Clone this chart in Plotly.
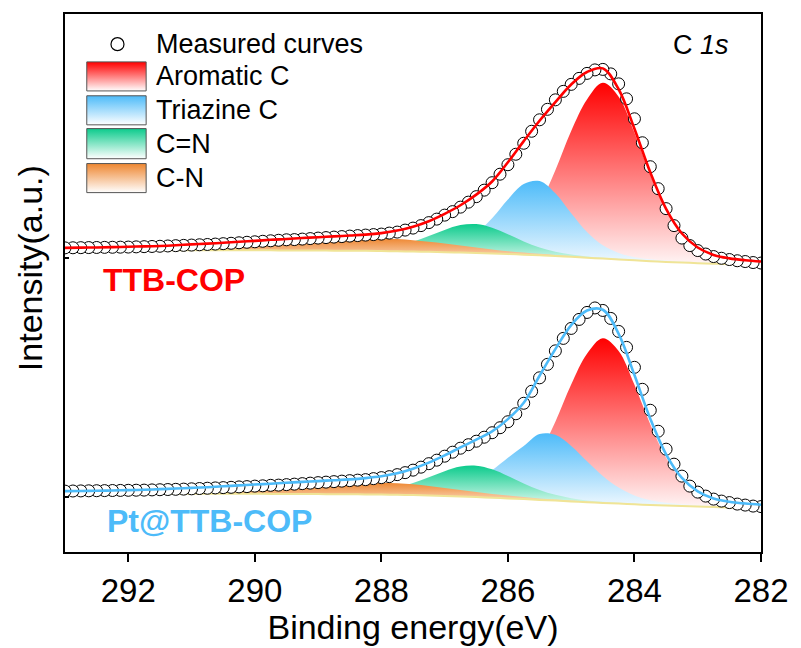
import numpy as np
import plotly.graph_objects as go

# ---------------- data (intensities in a.u.) ----------------
E_FIT = np.round(np.arange(282.0, 293.001, 0.25), 3)     # 45 points, fit grid (eV)
E_MEAS = np.round(np.arange(282.0, 293.001, 0.125), 3)   # 89 points, measured grid (eV)

OFFSET_TOP = 245  # vertical offset used to stack TTB-COP above Pt@TTB-COP

# ---- TTB-COP ----
top_bg = [42.5, 43.0, 43.4, 43.9, 44.4, 45.0, 45.6, 46.4, 47.2, 48.1, 49.0, 49.8, 50.7, 51.5, 52.2,
          52.9, 53.5, 54.1, 54.6, 55.0, 55.4, 55.7, 56.0, 56.3, 56.5, 56.7, 56.8, 56.9, 57.0, 57.1,
          57.1, 57.2, 57.2, 57.3, 57.3, 57.3, 57.4, 57.4, 57.4, 57.5, 57.5, 57.5, 57.5, 57.5, 57.5]
top_aromatic = [2.8, 3.5, 4.9, 7.7, 14.3, 27.5, 51.2, 86.3, 127.8, 163.1, 176.0, 158.5, 126.0, 86.0, 51.0,
                27.5, 14.5, 7.1, 4.6, 3.3, 2.7, 2.2, 1.9, 1.6, 1.4, 1.2, 1.1, 1.0, 0.9, 0.8,
                0.7, 0.7, 0.6, 0.6, 0.5, 0.5, 0.5, 0.4, 0.4, 0.4, 0.4, 0.3, 0.3, 0.3, 0.3]
top_triazine = [0.5, 0.5, 0.6, 0.7, 0.9, 1.1, 1.4, 2.0, 3.2, 6.4, 13.2, 25.7, 43.6, 62.8, 74.4,
                70.8, 54.7, 35.2, 19.5, 9.6, 4.7, 2.5, 1.7, 1.3, 1.0, 0.8, 0.7, 0.6, 0.5, 0.5,
                0.4, 0.4, 0.3, 0.3, 0.3, 0.3, 0.3, 0.2, 0.2, 0.2, 0.2, 0.2, 0.2, 0.2, 0.2]
top_c_eq_n = [0.15, 0.2, 0.2, 0.2, 0.25, 0.3, 0.35, 0.4, 0.5, 0.6, 0.8, 1.3, 2.3, 4.3, 7.9,
              13.3, 19.8, 25.8, 28.9, 27.5, 22.3, 15.8, 9.9, 5.6, 3.0, 1.6, 1.0, 0.6, 0.5, 0.4,
              0.4, 0.3, 0.3, 0.2, 0.2, 0.2, 0.2, 0.2, 0.1, 0.1, 0.1, 0.1, 0.1, 0.1, 0.1]
top_c_n = [0.1, 0.1, 0.1, 0.1, 0.2, 0.2, 0.2, 0.3, 0.3, 0.4, 0.5, 0.6, 0.8, 1.1, 1.5,
           2.1, 2.9, 4.0, 5.4, 7.0, 8.7, 10.2, 11.4, 12.2, 12.6, 12.7, 12.5, 12.1, 11.5, 10.8,
           10.0, 9.2, 8.3, 7.4, 6.5, 5.6, 4.8, 4.1, 3.5, 3.0, 2.6, 2.3, 2.0, 1.8, 1.6]
top_measured = [44.5, 45.0, 46.0, 46.8, 48.0, 49.3, 51.0, 53.5,
                57.0, 62.0, 69.5, 82.0, 99.0, 119.0, 141.0, 165.0,
                189.0, 209.0, 224.0, 234.0, 238.5, 238.0, 234.5, 229.5,
                223.5, 216.5, 208.0, 198.5, 188.0, 176.5, 164.5, 153.5,
                143.0, 133.5, 125.0, 117.5, 111.0, 105.5, 100.5, 96.0,
                92.5, 88.5, 85.0, 82.0, 79.5, 77.5, 75.5, 74.5,
                73.5, 73.0, 72.5, 72.0, 71.5, 71.0, 70.5, 70.0,
                69.5, 69.0, 68.5, 68.0, 67.8, 67.3, 66.8, 66.3,
                65.8, 65.3, 64.8, 64.3, 63.9, 63.5, 63.1, 62.8,
                62.5, 62.2, 61.9, 61.6, 61.3, 61.1, 60.9, 60.7,
                60.5, 60.4, 60.3, 60.2, 60.1, 60.0, 59.9, 59.8,
                59.7]

# ---- Pt@TTB-COP ----
bot_bg = [43.8, 44.2, 44.6, 45.0, 45.5, 46.0, 46.5, 47.1, 47.8, 48.5, 49.2, 49.9, 50.7, 51.5, 52.2,
          53.0, 53.7, 54.4, 55.0, 55.5, 56.0, 56.5, 57.0, 57.3, 57.5, 57.7, 57.8, 57.9, 58.0, 58.1,
          58.1, 58.2, 58.3, 58.3, 58.3, 58.3, 58.4, 58.4, 58.4, 58.4, 58.5, 58.5, 58.5, 58.5, 58.5]
bot_aromatic = [2.6, 3.3, 4.6, 7.2, 13.4, 25.8, 48.0, 80.9, 119.8, 152.9, 165.0, 148.6, 117.0, 79.0, 47.0,
                25.5, 13.5, 6.7, 4.3, 3.1, 2.5, 2.1, 1.8, 1.5, 1.3, 1.1, 1.0, 0.9, 0.8, 0.8,
                0.7, 0.6, 0.6, 0.5, 0.5, 0.5, 0.4, 0.4, 0.4, 0.4, 0.3, 0.3, 0.3, 0.3, 0.3]
bot_triazine = [0.7, 0.8, 0.9, 1.1, 1.4, 1.8, 2.8, 4.8, 8.8, 16.0, 26.9, 41.0, 55.6, 65.9, 66.0,
                53.2, 40.7, 27.5, 16.8, 9.5, 5.1, 2.9, 1.8, 1.35, 1.1, 0.9, 0.7, 0.7, 0.6, 0.55,
                0.5, 0.45, 0.4, 0.4, 0.35, 0.3, 0.3, 0.3, 0.25, 0.25, 0.25, 0.2, 0.2, 0.2, 0.2]
bot_c_eq_n = [0.2, 0.2, 0.2, 0.3, 0.3, 0.35, 0.4, 0.5, 0.6, 0.75, 1.1, 1.8, 3.2, 5.8, 10.0,
              15.75, 22.4, 28.4, 31.4, 30.1, 25.0, 18.4, 12.1, 7.2, 4.0, 2.25, 1.35, 0.9, 0.65, 0.55,
              0.45, 0.35, 0.3, 0.3, 0.25, 0.2, 0.2, 0.2, 0.2, 0.15, 0.15, 0.15, 0.1, 0.1, 0.1]
bot_c_n = [0.1, 0.1, 0.1, 0.1, 0.2, 0.2, 0.2, 0.3, 0.3, 0.4, 0.5, 0.6, 0.8, 1.0, 1.4,
           2.0, 2.8, 3.8, 5.1, 6.6, 8.2, 9.6, 10.8, 11.6, 12.0, 12.1, 11.9, 11.5, 11.0, 10.3,
           9.6, 8.8, 8.0, 7.2, 6.4, 5.6, 4.9, 4.3, 3.7, 3.2, 2.8, 2.5, 2.2, 2.0, 1.9]
bot_measured = [45.5, 46.0, 47.0, 48.0, 49.5, 51.0, 53.0, 56.0,
                60.0, 66.0, 76.0, 88.0, 103.0, 121.0, 142.0, 163.0,
                185.0, 205.0, 221.0, 234.0, 242.0, 244.5, 240.0, 233.0,
                224.0, 214.0, 201.5, 188.0, 174.5, 161.0, 149.0, 138.5,
                130.5, 124.5, 119.5, 115.0, 111.0, 107.5, 104.0, 100.0,
                96.0, 92.0, 88.5, 85.0, 82.0, 79.5, 77.5, 75.5,
                74.5, 73.5, 72.5, 72.0, 71.5, 71.0, 70.5, 70.0,
                69.5, 69.0, 68.5, 68.0, 67.5, 67.0, 66.8, 66.3,
                66.0, 65.5, 65.2, 64.8, 64.5, 64.2, 63.9, 63.6,
                63.3, 63.0, 62.8, 62.6, 62.4, 62.2, 62.0, 61.9,
                61.8, 61.7, 61.6, 61.5, 61.4, 61.3, 61.2, 61.1,
                61.0]

COMPONENT_NAMES = ["Aromatic C", "Triazine C", "C=N", "C-N"]
X_TICKS = [292, 290, 288, 286, 284, 282]

# ---------------- styling ----------------
FONT = "Arial, Liberation Sans, sans-serif"
RED = "#FF0000"
BLUE = "#4DBBF9"
GREEN = "#0CCB8C"
ORANGE = "#EE8630"
COMP_COLORS = [(RED, "rgba(255,246,246,1)"),
               (BLUE, "rgba(244,250,255,1)"),
               (GREEN, "rgba(240,253,248,1)"),
               (ORANGE, "rgba(254,246,238,1)")]
BG_LINE = "#F0E496"

fig = go.Figure()


def add_spectrum(offset, bg, comps, meas, fit_color):
    bg_arr = np.array(bg) + offset
    for vals, (c_top, c_bot) in zip(comps, COMP_COLORS):
        fig.add_trace(go.Scatter(x=E_FIT, y=bg_arr, mode="lines",
                                 line=dict(width=0, shape="spline"),
                                 hoverinfo="skip", showlegend=False))
        fig.add_trace(go.Scatter(x=E_FIT, y=bg_arr + np.array(vals), mode="lines",
                                 line=dict(width=0, shape="spline"), fill="tonexty",
                                 fillgradient=dict(type="vertical",
                                                   colorscale=[[0, c_bot], [1, c_top]]),
                                 hoverinfo="skip", showlegend=False))
    fig.add_trace(go.Scatter(x=E_FIT, y=bg_arr, mode="lines",
                             line=dict(color=BG_LINE, width=2, shape="spline"),
                             showlegend=False))
    fig.add_trace(go.Scatter(x=E_MEAS, y=np.array(meas) + offset, mode="markers",
                             marker=dict(symbol="circle", size=12, color="white",
                                         line=dict(color="black", width=1)),
                             showlegend=False))
    envelope = bg_arr + np.sum(np.array(comps), axis=0)
    fig.add_trace(go.Scatter(x=E_FIT, y=envelope, mode="lines",
                             line=dict(color=fit_color, width=2.6, shape="spline"),
                             showlegend=False))


add_spectrum(OFFSET_TOP, top_bg, [top_aromatic, top_triazine, top_c_eq_n, top_c_n], top_measured, RED)
add_spectrum(0, bot_bg, [bot_aromatic, bot_triazine, bot_c_eq_n, bot_c_n], bot_measured, BLUE)

# ---------------- custom legend (on an overlay axis in fractions of the plot) ----------------
SW_X0, SW_X1 = 0.0313, 0.1166
SW_ROWS = [(0.857, 0.911), (0.794, 0.848), (0.731, 0.787), (0.668, 0.722)]
LEG_TEXT_X = 0.128
LEG_TEXT_Y = [0.884, 0.821, 0.759, 0.695]

fig.add_trace(go.Scatter(x=[0.0754], y=[0.944], xaxis="x2", yaxis="y2", mode="markers",
                         marker=dict(symbol="circle", size=13, color="white",
                                     line=dict(color="black", width=1.2)),
                         showlegend=False, hoverinfo="skip"))
for (y0, y1), (c_top, _) in zip(SW_ROWS, COMP_COLORS):
    fig.add_trace(go.Scatter(x=[SW_X0, SW_X1, SW_X1, SW_X0, SW_X0], y=[y0, y0, y1, y1, y0],
                             xaxis="x2", yaxis="y2", mode="lines", fill="toself",
                             line=dict(color="#555555", width=1),
                             fillgradient=dict(type="vertical",
                                               colorscale=[[0, "white"], [1, c_top]]),
                             showlegend=False, hoverinfo="skip"))

annotations = [dict(x=LEG_TEXT_X, y=0.944, text="Measured curves")]
for name, ty in zip(COMPONENT_NAMES, LEG_TEXT_Y):
    annotations.append(dict(x=LEG_TEXT_X, y=ty, text=name))
annotations = [dict(a, xref="paper", yref="paper", xanchor="left", yanchor="middle",
                    showarrow=False, font=dict(family=FONT, size=27, color="black"))
               for a in annotations]
annotations += [
    dict(x=0.957, y=0.9425, xref="paper", yref="paper", xanchor="right", yanchor="middle",
         text="C <i>1s</i>", showarrow=False, font=dict(family=FONT, size=27, color="black")),
    dict(x=0.052, y=0.505, xref="paper", yref="paper", xanchor="left", yanchor="middle",
         text="<b>TTB-COP</b>", showarrow=False, font=dict(family=FONT, size=32, color=RED)),
    dict(x=0.057, y=0.058, xref="paper", yref="paper", xanchor="left", yanchor="middle",
         text="<b>Pt@TTB-COP</b>", showarrow=False, font=dict(family=FONT, size=32, color=BLUE)),
    dict(x=-0.050, y=0.528, xref="paper", yref="paper", xanchor="center", yanchor="middle",
         text="Intensity(a.u.)", textangle=-90, showarrow=False,
         font=dict(family=FONT, size=34, color="black")),
]

fig.update_layout(
    width=801, height=648,
    margin=dict(l=65, r=33, t=13, b=96),
    paper_bgcolor="white", plot_bgcolor="white",
    font=dict(family=FONT, color="black"),
    showlegend=False,
    annotations=annotations,
    xaxis=dict(range=[293, 282], tickvals=X_TICKS, ticktext=[str(t) for t in X_TICKS],
               ticks="outside", ticklen=8, tickwidth=1.5, tickcolor="black",
               tickfont=dict(family=FONT, size=33, color="black"),
               showline=True, linecolor="black", linewidth=1.8, mirror=True,
               showgrid=False, zeroline=False,
               title=dict(text="Binding energy(eV)", standoff=4,
                          font=dict(family=FONT, size=34, color="black"))),
    yaxis=dict(range=[0, 539], tickvals=[55, 295], showticklabels=False,
               ticks="inside", ticklen=4, tickwidth=1.5, tickcolor="black",
               showline=True, linecolor="black", linewidth=1.8, mirror=True,
               showgrid=False, zeroline=False),
    xaxis2=dict(overlaying="x", anchor="y2", range=[0, 1], visible=False),
    yaxis2=dict(overlaying="y", anchor="x2", range=[0, 1], visible=False),
)

fig.write_html("out.html")
